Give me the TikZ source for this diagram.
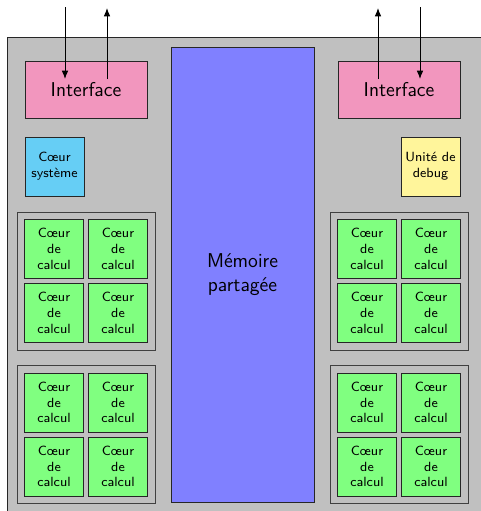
\documentclass[tikz,border=0pt]{standalone}
\usetikzlibrary{arrows.meta}
\definecolor{bggray}{RGB}{192,192,192}
\definecolor{ifpink}{RGB}{242,150,190}
\definecolor{syscyan}{RGB}{102,206,245}
\definecolor{dbgyellow}{RGB}{255,245,155}
\definecolor{coregreen}{RGB}{128,255,128}
\definecolor{memblue}{RGB}{128,128,255}
\begin{document}
\begin{tikzpicture}[x=0.6pt,y=-0.6pt,
  box/.style={draw=black!85,line width=0.6pt,inner sep=0pt,align=center,font=\sffamily},
  iface/.style={box,fill=ifpink,minimum width=122*0.6pt,minimum height=57*0.6pt,font=\sffamily\large},
  small/.style={box,minimum width=59*0.6pt,minimum height=59*0.6pt,font=\sffamily\footnotesize},
  core/.style={small,fill=coregreen},
  group/.style={draw=black!75,line width=0.6pt,fill=bggray,minimum width=138*0.6pt,minimum height=138*0.6pt,inner sep=0pt},
  arr/.style={line width=0.6pt,-{Latex[length=5pt,width=4pt]}}]
\useasboundingbox (0,0) rectangle (481,511);
\begin{scope}
\clip (0,0) rectangle (481,511);
\node[draw=black!85,line width=0.6pt,fill=bggray,minimum width=490*0.6pt,minimum height=490*0.6pt,anchor=north west,inner sep=0pt] (chip) at (7,37) {};
\end{scope}
% interfaces
\node[iface] (ifl) at (86,89.5) {Interface};
\node[iface] (ifr) at (399,89.5) {Interface};
\node[small,fill=syscyan] (sys) at (54.5,166.5) {C\oe ur\\syst\`eme};
\node[small,fill=dbgyellow] (dbg) at (430.5,166.5) {Unit\'e de\\debug};
% memory
\node[box,fill=memblue,minimum width=143*0.6pt,minimum height=455*0.6pt,font=\sffamily\large] (mem) at (242.5,274.5) {M\'emoire\\partag\'ee};
% groups
\foreach \gx/\gy/\nm in {86/281/gla,86/434.5/glb,399/281/gra,399/434.5/grb}{
  \node[group] (\nm) at (\gx,\gy) {};
  \node[core] (\nm1) at (\gx-32,\gy-32) {C\oe ur\\de\\calcul};
  \node[core] (\nm2) at (\gx+32,\gy-32) {C\oe ur\\de\\calcul};
  \node[core] (\nm3) at (\gx-32,\gy+32) {C\oe ur\\de\\calcul};
  \node[core] (\nm4) at (\gx+32,\gy+32) {C\oe ur\\de\\calcul};
}
% arrows
\coordinate (la1) at (65,7);   \coordinate (la2) at (65,79);
\coordinate (lb1) at (107,79); \coordinate (lb2) at (107,8);
\coordinate (ra1) at (378,79); \coordinate (ra2) at (378,8);
\coordinate (rb1) at (420,7);  \coordinate (rb2) at (420,79);
\draw[arr] (la1) -- (la2);
\draw[arr] (lb1) -- (lb2);
\draw[arr] (ra1) -- (ra2);
\draw[arr] (rb1) -- (rb2);
\end{tikzpicture}
\end{document}
